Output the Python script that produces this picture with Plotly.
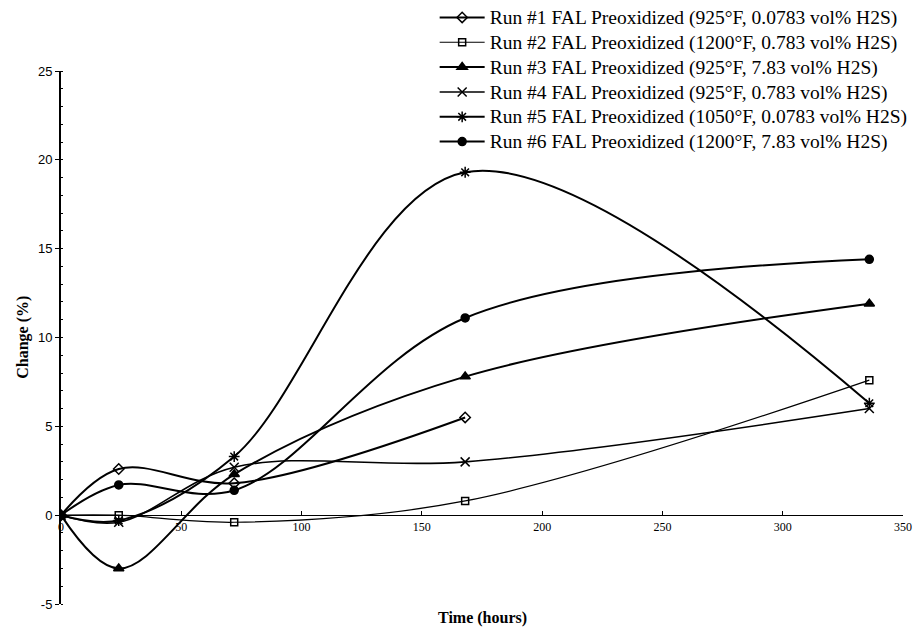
import plotly.graph_objects as go

hours = [0, 24, 72, 168, 336]

run1 = [0, 2.6, 1.8, 5.5]
run2 = [0, 0.0, -0.4, 0.8, 7.6]
run3 = [0, -3.0, 2.3, 7.8, 11.9]
run4 = [0, -0.4, 2.7, 3.0, 6.0]
run5 = [0, -0.3, 3.3, 19.3, 6.3]
run6 = [0, 1.7, 1.4, 11.1, 14.4]

names = [
    "Run #1 FAL Preoxidized (925°F, 0.0783 vol% H2S)",
    "Run #2 FAL Preoxidized (1200°F, 0.783 vol% H2S)",
    "Run #3 FAL Preoxidized (925°F, 7.83 vol% H2S)",
    "Run #4 FAL Preoxidized (925°F, 0.783 vol% H2S)",
    "Run #5 FAL Preoxidized (1050°F, 0.0783 vol% H2S)",
    "Run #6 FAL Preoxidized (1200°F, 7.83 vol% H2S)",
]

x_ticks = [0, 50, 100, 150, 200, 250, 300, 350]
y_ticks = [-5, 0, 5, 10, 15, 20, 25]

series = [run1, run2, run3, run4, run5, run6]
styles = [
    dict(symbol="diamond-open", size=8, width=2),
    dict(symbol="square-open", size=7, width=1.2),
    dict(symbol="triangle-up", size=9, width=2),
    dict(symbol="x-thin-open", size=9, width=1.6),
    dict(symbol="asterisk-open", size=9, width=2),
    dict(symbol="circle", size=8, width=2),
]

fig = go.Figure()
for vals, name, st in zip(series, names, styles):
    fig.add_trace(go.Scatter(
        x=hours[:len(vals)], y=vals,
        name='<span style="font-size:19.5px">' + name + '</span>',
        mode="lines+markers",
        line=dict(color="black", width=st["width"], shape="spline", smoothing=1),
        marker=dict(symbol=st["symbol"], size=st["size"], color="black",
                    line=dict(color="black", width=1.5)),
    ))

fig.update_layout(
    width=917, height=643,
    margin=dict(l=61, r=14, t=71, b=39, autoexpand=False),
    paper_bgcolor="white", plot_bgcolor="white",
    showlegend=True,
    legend=dict(
        x=0.474, y=1.0, xref="container", yref="container",
        xanchor="left", yanchor="top",
        font=dict(family="Liberation Serif", size=16.8, color="black"),
        bgcolor="rgba(0,0,0,0)", itemwidth=45, tracegroupgap=0,
    ),
    xaxis=dict(
        range=[0, 350], tickvals=x_ticks, ticktext=[str(v) for v in x_ticks],
        showgrid=False, zeroline=False, showline=True, linecolor="black", linewidth=1,
        ticks="inside", ticklen=4, tickcolor="black",
        anchor="free", position=1/6,
        tickfont=dict(family="Liberation Serif", size=12, color="black"),
    ),
    yaxis=dict(
        range=[-5, 25], tickvals=y_ticks, ticktext=[str(v) for v in y_ticks],
        showgrid=False, zeroline=False, showline=True, linecolor="black", linewidth=2,
        ticks="outside", ticklen=4, tickcolor="black",
        minor=dict(dtick=1, ticks="inside", ticklen=2, tickcolor="black"),
        tickfont=dict(family="Liberation Sans", size=13, color="black"),
    ),
    annotations=[
        dict(
            text="<b>Time (hours)</b>", x=0.5, y=-0.005, xref="paper", yref="paper",
            xanchor="center", yanchor="top", showarrow=False,
            font=dict(family="Liberation Serif", size=16, color="black"),
        ),
        dict(
            text="<b>Change (%)</b>", x=-0.046, y=0.5, xref="paper", yref="paper",
            xanchor="center", yanchor="middle", textangle=-90, showarrow=False,
            font=dict(family="Liberation Serif", size=16, color="black"),
        ),
    ],
)

fig.write_html("out.html")
